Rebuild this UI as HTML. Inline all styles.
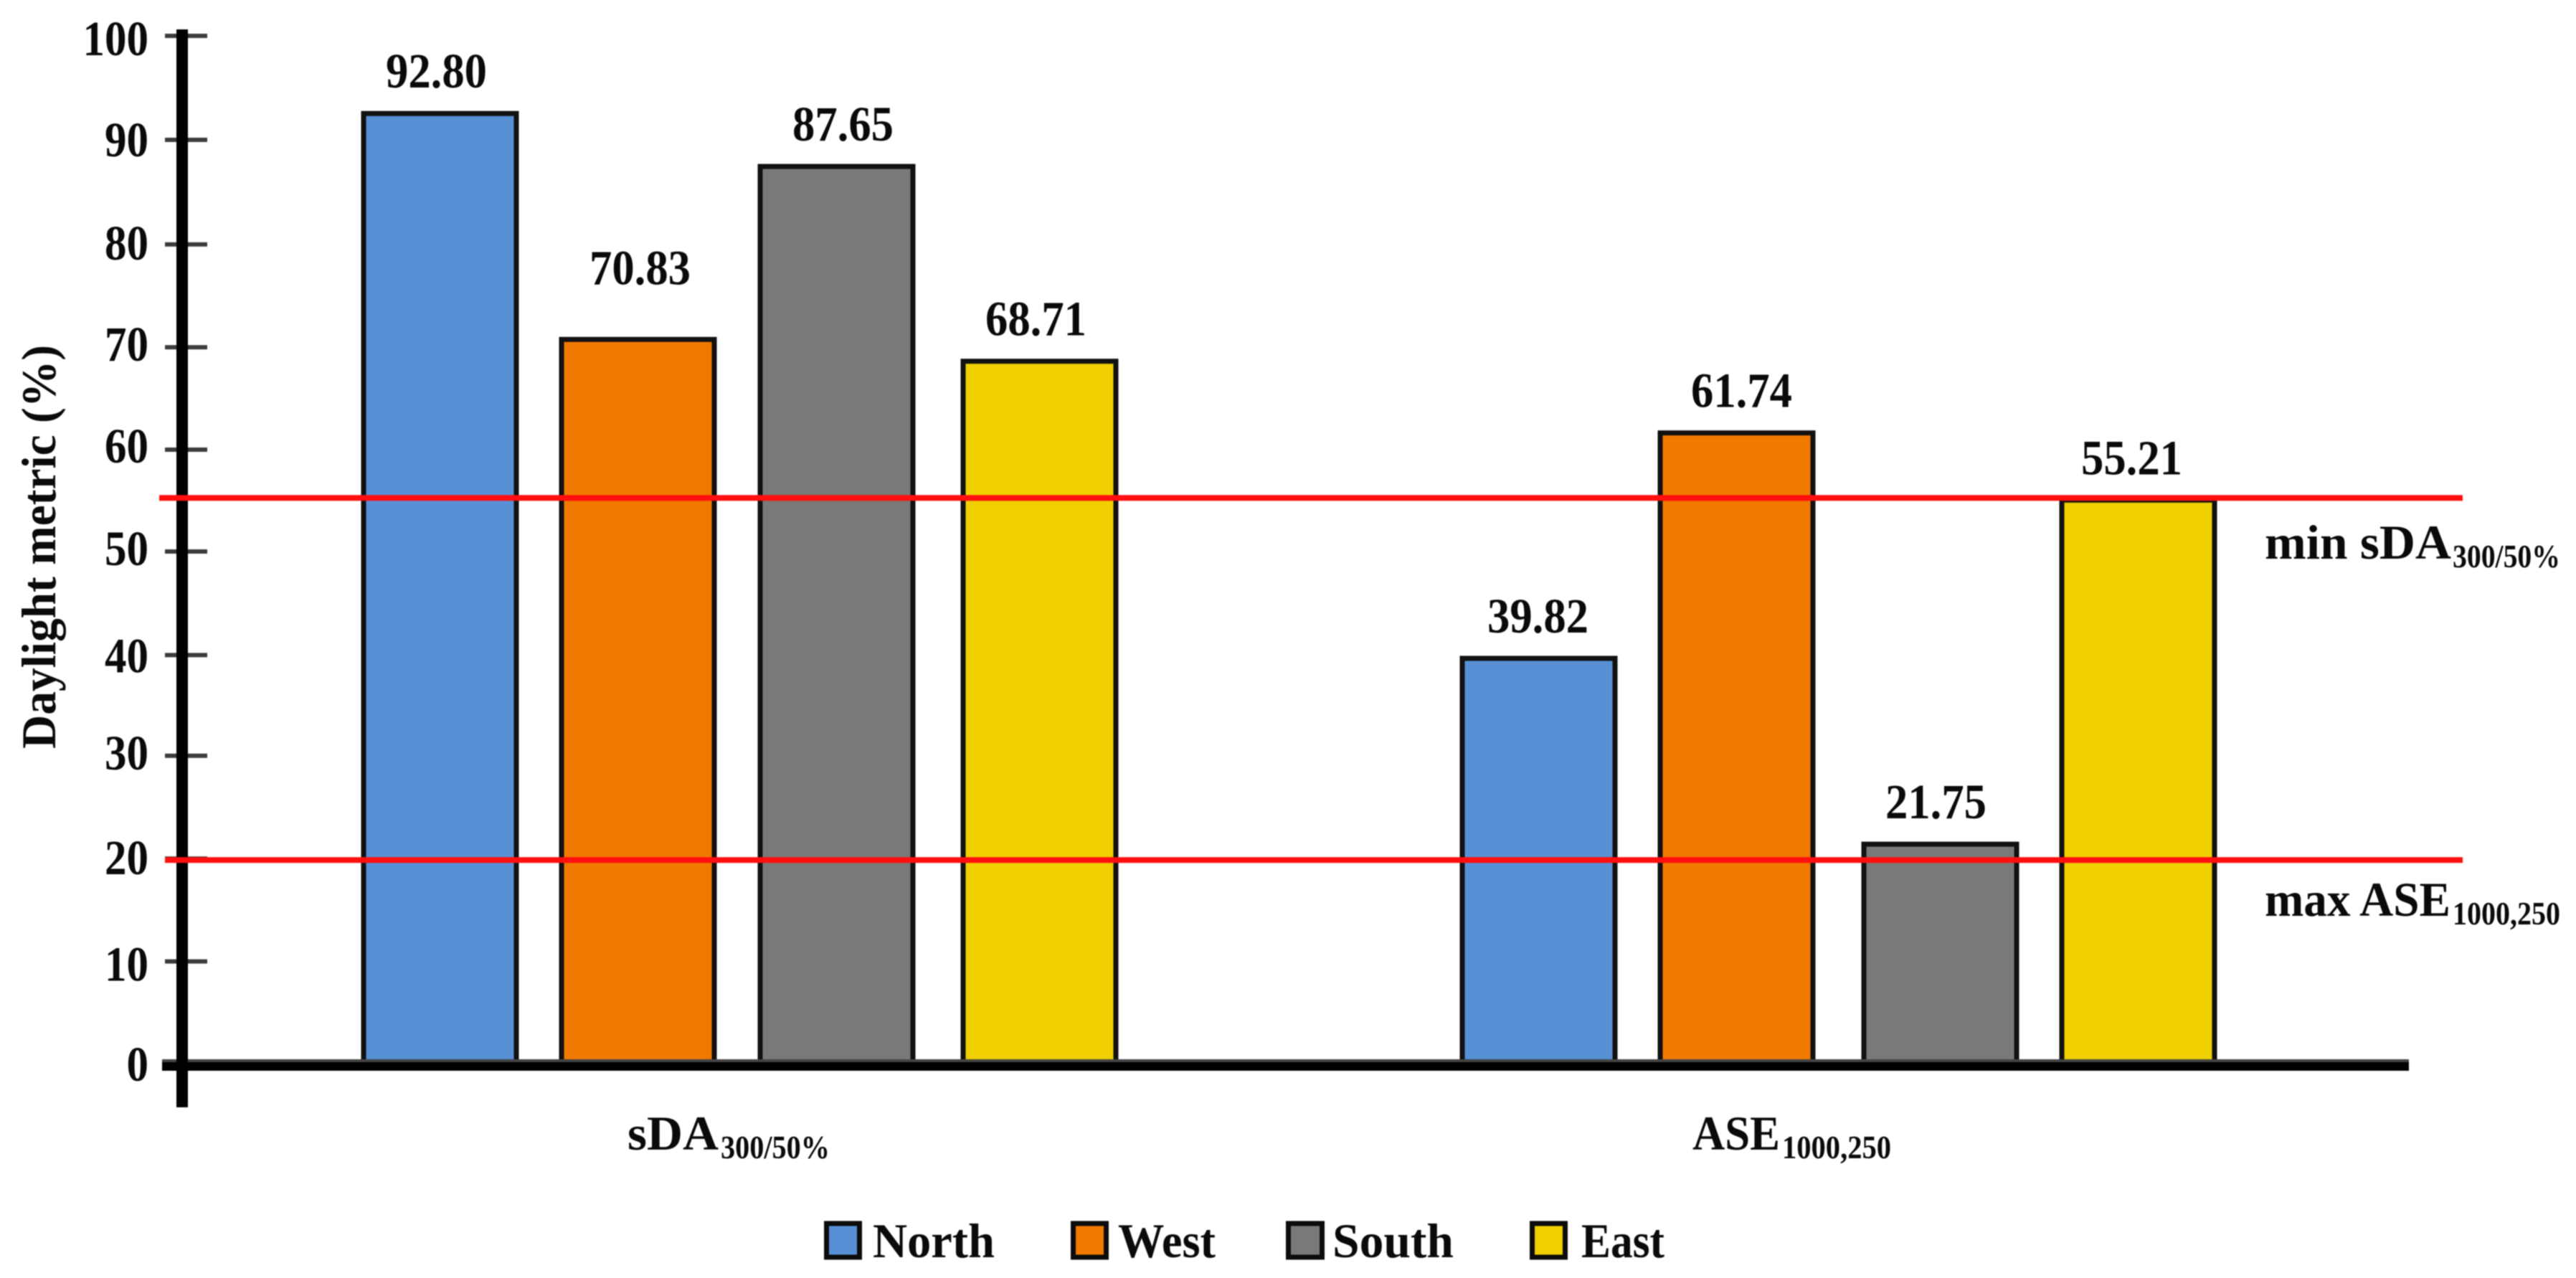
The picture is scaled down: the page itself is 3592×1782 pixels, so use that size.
<!DOCTYPE html>
<html lang="en">
<head>
<meta charset="utf-8">
<title>Daylight metric chart</title>
<style>
html,body{margin:0;padding:0;background:#fff;}
#chart{display:block;width:3592px;height:1782px;filter:blur(0.7px);}
text{font-family:"Liberation Serif",serif;font-weight:bold;fill:#0a0a0a;}
</style>
</head>
<body>
<svg id="chart" xmlns="http://www.w3.org/2000/svg" width="3592" height="1782" viewBox="0 0 3592 1782">
  <rect x="0" y="0" width="3592" height="1782" fill="#fff"/>
  <g id="bars"></g>
  <g id="axes"></g>
  <g id="thresholds"></g>
  <g id="labels"></g>
  <g id="categories"></g>

  <text transform="translate(77,1044) rotate(-90)" font-size="68" textLength="563" lengthAdjust="spacingAndGlyphs">Daylight metric (%)</text>

  <text x="3158" y="779" font-size="68" textLength="260" lengthAdjust="spacingAndGlyphs">min sDA</text>
  <text x="3420" y="791" font-size="45" textLength="150" lengthAdjust="spacingAndGlyphs" fill="#222">300/50%</text>
  <text x="3158" y="1277" font-size="68" textLength="259" lengthAdjust="spacingAndGlyphs">max ASE</text>
  <text x="3420" y="1289" font-size="45" textLength="150" lengthAdjust="spacingAndGlyphs" fill="#222">1000,250</text>

  <g>
    <g>
      <rect x="1152.5" y="1706" width="46" height="47" fill="#5790D4" stroke="#0c0c0c" stroke-width="7"/>
      <text x="1217" y="1753" font-size="68" textLength="170" lengthAdjust="spacingAndGlyphs">North</text>
    </g>
    <g>
      <rect x="1496.5" y="1706" width="46" height="47" fill="#F27900" stroke="#0c0c0c" stroke-width="7"/>
      <text x="1559" y="1753" font-size="68" textLength="136" lengthAdjust="spacingAndGlyphs">West</text>
    </g>
    <g>
      <rect x="1796.5" y="1706" width="47" height="47" fill="#7A7977" stroke="#0c0c0c" stroke-width="7"/>
      <text x="1858" y="1753" font-size="68" textLength="169" lengthAdjust="spacingAndGlyphs">South</text>
    </g>
    <g>
      <rect x="2136.5" y="1706" width="46" height="47" fill="#F0CF00" stroke="#0c0c0c" stroke-width="7"/>
      <text x="2205" y="1753" font-size="68" textLength="116" lengthAdjust="spacingAndGlyphs">East</text>
    </g>
  </g>
</svg>
<script>
// ---- chart data ----
const categoryMain = ['sDA', 'ASE'];
const categorySub = ['300/50%', '1000,250'];
const seriesNames = ['north', 'west', 'south', 'east'];
const seriesColors = ['#5790D4', '#F27900', '#7A7977', '#F0CF00'];
const northValues = [92.80, 39.82];
const westValues = [70.83, 61.74];
const southValues = [87.65, 21.75];
const eastValues = [68.71, 55.21];
const tickValues = [0, 10, 20, 30, 40, 50, 60, 70, 80, 90, 100];
const thresholdValues = [55.21, 20];
const thresholdNames = ['min-sda-line', 'max-ase-line'];

// ---- scales and layout ----
const seriesValues = [northValues, westValues, southValues, eastValues];
const NS = 'http://www.w3.org/2000/svg';
const Y_ZERO = 1489;
const Y_UNIT = 14.34;
const y = v => Y_ZERO - v * Y_UNIT;
const groupCenter = g => 1031.5 + g * 1532;
const seriesOffset = s => (s < 2 ? -1 : 1) * (s === 0 || s === 3 ? 418 : 142);
const barCenter = (g, s) => groupCenter(g) + seriesOffset(s) - (g === 0 && s === 2 ? 7 : 0);
const LABEL_DX = {'0-0': -5, '0-1': 3, '0-2': 9, '0-3': -5, '1-0': -1, '1-1': 7, '1-2': -6, '1-3': -9};
const LABEL_GAP = 36;
const BAR_OUTER = 213;
const BASELINE = 1487;
// The source artwork's ticks are hand-placed, so they wobble slightly off a straight scale.
const TICK_WOBBLE = {90: 1.6, 80: 4, 70: 4, 60: 3.4, 50: 2, 40: 3};
const TICK_LABEL_DROP = {100: 27, 90: 23, 80: 21, 70: 19, 60: 18, 50: 19, 40: 24, 30: 19, 20: 22, 10: 27, 0: 23};

function make(tag, attrs, parent, txt) {
  const el = document.createElementNS(NS, tag);
  for (const k in attrs) el.setAttribute(k, attrs[k]);
  if (txt !== undefined) el.textContent = txt;
  parent.appendChild(el);
  return el;
}

const barsG = document.getElementById('bars');
const axesG = document.getElementById('axes');
const thrG = document.getElementById('thresholds');
const labelsG = document.getElementById('labels');
const catG = document.getElementById('categories');

// bars and printed values
seriesValues.forEach((vals, s) => {
  vals.forEach((v, g) => {
    const cx = barCenter(g, s);
    const top = y(v);
    const bar = make('rect', {
      x: cx - BAR_OUTER / 2, y: top, width: BAR_OUTER, height: Math.max(0, BASELINE - top),
      fill: seriesColors[s], stroke: '#111', 'stroke-width': 7
    }, barsG);
    
    

    const lift = (g === 0 && s === 1) ? 41 : 0;
    const lab = make('text', {
      x: cx + LABEL_DX[g + '-' + s], y: top - LABEL_GAP - lift, 'font-size': 69,
      'text-anchor': 'middle', textLength: 141, lengthAdjust: 'spacingAndGlyphs'
    }, labelsG, v.toFixed(2));
    
    
  });
});

// y axis ticks
tickValues.forEach(t => {
  const ty = y(t) - 5 + (TICK_WOBBLE[t] || 0);
  if (t !== 0) {
    const tick = make('rect', {x: 230, y: ty - 3, width: 59, height: 6, fill: '#3c3c3c'}, axesG);
    
    
  }
  const label = String(t);
  const tl = make('text', {
    x: 207, y: ty + (TICK_LABEL_DROP[t] || 22), 'font-size': 69, 'text-anchor': 'end',
    textLength: label.length * 30.5, lengthAdjust: 'spacingAndGlyphs'
  }, axesG, label);
  
  
});

// axis lines
const baseGlow = make('rect', {x: 226, y: 1477, width: 3133, height: 5, fill: '#444'}, axesG);


const xAxis = make('rect', {x: 226, y: 1481, width: 3133, height: 12, fill: '#000'}, axesG);


const yAxis = make('rect', {x: 246, y: 41, width: 16, height: 1503, fill: '#000'}, axesG);



// threshold lines
thresholdValues.forEach((v, i) => {
  const ly = y(v) - 3;
  const ln = make('rect', {x: i === 0 ? 222 : 230, y: ly - 4, width: i === 0 ? 3212 : 3204, height: 8, fill: '#FF0F0F'}, thrG);
  
  
});

// category labels
categoryMain.forEach((name, g) => {
  const startX = groupCenter(g) - (g === 0 ? 156.5 : 203.5);
  const mainW = g === 0 ? 127 : 122;
  const main = make('text', {
    x: startX, y: 1603, 'font-size': 68, textLength: mainW, lengthAdjust: 'spacingAndGlyphs'
  }, catG, name);
  
  
  const sub = make('text', {
    x: startX + mainW + 3, y: 1615, 'font-size': 45, textLength: 152, lengthAdjust: 'spacingAndGlyphs', fill: '#222'
  }, catG, categorySub[g]);
  
  
});
</script>
</body>
</html>
